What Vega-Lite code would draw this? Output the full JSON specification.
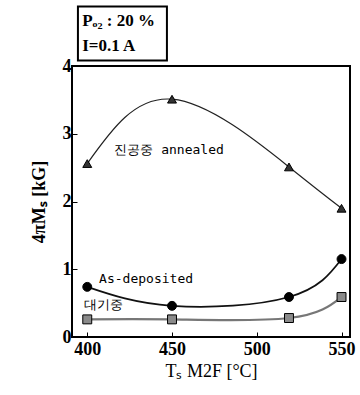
{
  "$schema": "https://vega.github.io/schema/vega-lite/v6.json",
  "width": 278,
  "height": 271,
  "autosize": "none",
  "padding": {"left": 72, "top": 66, "right": 10, "bottom": 58},
  "background": "white",
  "config": {"view": {"stroke": "black", "strokeWidth": 2}},
  "datasets": {
    "pts": [
      {"series": "annealed", "T": 400, "M": 2.56},
      {"series": "annealed", "T": 450, "M": 3.51},
      {"series": "annealed", "T": 519, "M": 2.51},
      {"series": "annealed", "T": 550, "M": 1.9},
      {"series": "as-deposited", "T": 400, "M": 0.74},
      {"series": "as-deposited", "T": 450, "M": 0.46},
      {"series": "as-deposited", "T": 519, "M": 0.59},
      {"series": "as-deposited", "T": 550, "M": 1.15},
      {"series": "air", "T": 400, "M": 0.26},
      {"series": "air", "T": 450, "M": 0.26},
      {"series": "air", "T": 519, "M": 0.28},
      {"series": "air", "T": 550, "M": 0.59}
    ],
    "labels": [
      {"T": 416, "M": 2.76, "label": "진공중 annealed"},
      {"T": 407, "M": 0.86, "label": "As-deposited"},
      {"T": 398, "M": 0.47, "label": "대기중"}
    ],
    "box": [{"x1": 394.5, "x2": 447, "y1": 4.08, "y2": 4.88}],
    "boxtext": [
      {"T": 397, "M": 4.66, "label": "Pₒ₂ : 20 %"},
      {"T": 397, "M": 4.3, "label": "I=0.1 A"}
    ]
  },
  "layer": [
    {
      "data": {"name": "pts"},
      "mark": {"type": "line", "interpolate": "natural"},
      "encoding": {
        "x": {"field": "T", "type": "quantitative", "scale": {"domain": [391, 555], "nice": false, "zero": false},
          "axis": {"values": [400, 450, 500, 550], "format": "d", "title": "Tₛ M2F [°C]", "grid": false, "tickSize": -5, "tickColor": "black", "domain": false,
            "labelFont": "Liberation Serif", "labelFontSize": 18, "labelFontWeight": "bold", "labelColor": "black", "labelPadding": 8,
            "titleFont": "Liberation Serif", "titleFontSize": 18, "titleFontWeight": "normal", "titleColor": "black", "titlePadding": 4}},
        "y": {"field": "M", "type": "quantitative", "scale": {"domain": [0, 4], "nice": false},
          "axis": {"values": [0, 1, 2, 3, 4], "format": "d", "title": "4πMₛ [kG]", "grid": false, "tickSize": -5, "tickColor": "black", "domain": false,
            "labelFont": "Liberation Serif", "labelFontSize": 18, "labelFontWeight": "bold", "labelColor": "black", "labelPadding": 6,
            "titleFont": "Liberation Serif", "titleFontSize": 18, "titleFontWeight": "bold", "titleColor": "black", "titlePadding": 14}},
        "detail": {"field": "series"},
        "color": {"field": "series", "type": "nominal", "scale": {"domain": ["annealed", "as-deposited", "air"], "range": ["#222222", "#111111", "#777777"]}, "legend": null},
        "strokeWidth": {"field": "series", "type": "nominal", "scale": {"domain": ["annealed", "as-deposited", "air"], "range": [1.2, 2.2, 1.2]}, "legend": null}
      }
    },
    {
      "data": {"name": "pts"},
      "mark": {"type": "point", "filled": true, "opacity": 1, "stroke": "black", "strokeWidth": 1},
      "encoding": {
        "x": {"field": "T", "type": "quantitative"},
        "y": {"field": "M", "type": "quantitative"},
        "shape": {"field": "series", "type": "nominal", "scale": {"domain": ["annealed", "as-deposited", "air"], "range": ["triangle-up", "circle", "square"]}, "legend": null},
        "fill": {"field": "series", "type": "nominal", "scale": {"domain": ["annealed", "as-deposited", "air"], "range": ["#333333", "#000000", "#8a8a8a"]}, "legend": null},
        "size": {"value": 80}
      }
    },
    {
      "data": {"name": "labels"},
      "mark": {"type": "text", "align": "left", "baseline": "middle", "font": "DejaVu Sans Mono", "fontSize": 13, "color": "black"},
      "encoding": {
        "x": {"field": "T", "type": "quantitative"},
        "y": {"field": "M", "type": "quantitative"},
        "text": {"field": "label"}
      }
    },
    {
      "data": {"name": "box"},
      "mark": {"type": "rect", "clip": false, "fill": "white", "stroke": "black", "strokeWidth": 2},
      "encoding": {
        "x": {"field": "x1", "type": "quantitative"},
        "x2": {"field": "x2"},
        "y": {"field": "y1", "type": "quantitative"},
        "y2": {"field": "y2"}
      }
    },
    {
      "data": {"name": "boxtext"},
      "mark": {"type": "text", "clip": false, "align": "left", "baseline": "middle", "font": "Liberation Serif", "fontSize": 17, "fontWeight": "bold", "color": "black"},
      "encoding": {
        "x": {"field": "T", "type": "quantitative"},
        "y": {"field": "M", "type": "quantitative"},
        "text": {"field": "label"}
      }
    }
  ]
}
